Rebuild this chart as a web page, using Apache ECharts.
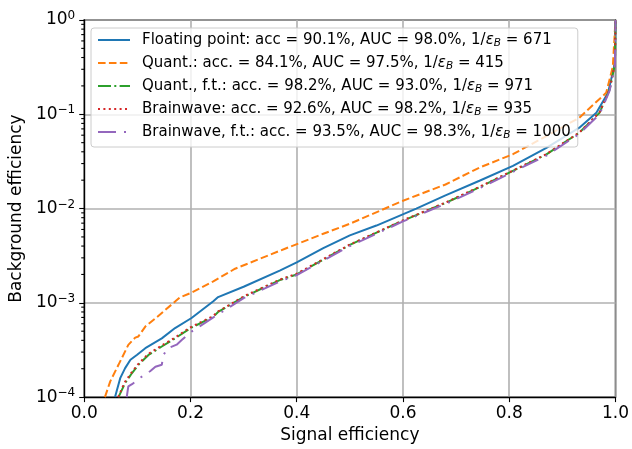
<!DOCTYPE html>
<html><head><meta charset="utf-8">
<script src="https://cdn.jsdelivr.net/npm/echarts@6/dist/echarts.min.js"></script>
<style>html,body{margin:0;padding:0;background:#fff}#c{width:632px;height:449px}</style>
</head><body><div id="c"></div><script>
// ---- data ----
const seriesNames = ['Floating point', 'Quant.', 'Quant., f.t.', 'Brainwave', 'Brainwave, f.t.'];
const legendText = [
  'Floating point: acc = 90.1%, AUC = 98.0%, 1/{e|ε}{s|B} = 671',
  'Quant.: acc. = 84.1%, AUC = 97.5%, 1/{e|ε}{s|B} = 415',
  'Quant., f.t.: acc. = 98.2%, AUC = 93.0%, 1/{e|ε}{s|B} = 971',
  'Brainwave: acc. = 92.6%, AUC = 98.2%, 1/{e|ε}{s|B} = 935',
  'Brainwave, f.t.: acc. = 93.5%, AUC = 98.3%, 1/{e|ε}{s|B} = 1000'
];
const floatingPoint = [[0.058,1.0e-4],[0.068,1.6e-4],[0.077,2.03e-4],[0.087,2.49e-4],[0.099,2.8e-4],[0.115,3.3e-4],[0.146,4.2e-4],[0.171,5.4e-4],[0.202,6.9e-4],[0.243,1.04e-3],[0.252,1.15e-3],[0.3,1.48e-3],[0.368,2.2e-3],[0.4,2.68e-3],[0.45,3.8e-3],[0.5,5.2e-3],[0.55,6.6e-3],[0.625,1.0e-2],[0.68,1.38e-2],[0.744,1.97e-2],[0.807,2.83e-2],[0.87,4.4e-2],[0.932,7.2e-2],[0.964,1.04e-1],[0.986,1.69e-1],[0.999,3.5e-1],[1,1]];
const quant = [[0.039,1.0e-4],[0.049,1.47e-4],[0.0645,2.2e-4],[0.083,3.58e-4],[0.096,4.28e-4],[0.102,4.4e-4],[0.115,5.6e-4],[0.134,6.84e-4],[0.171,1.03e-3],[0.18,1.14e-3],[0.202,1.28e-3],[0.243,1.69e-3],[0.284,2.3e-3],[0.378,3.75e-3],[0.45,5.4e-3],[0.5,6.9e-3],[0.6,1.21e-2],[0.68,1.8e-2],[0.744,2.72e-2],[0.807,3.77e-2],[0.87,5.88e-2],[0.932,9.2e-2],[0.9825,1.69e-1],[0.995,3.2e-1],[1,1]];
const quantFt = [[0.0645,1.0e-4],[0.077,1.41e-4],[0.09,1.8e-4],[0.102,2.2e-4],[0.121,2.8e-4],[0.146,3.44e-4],[0.171,4.2e-4],[0.202,5.46e-4],[0.243,7.1e-4],[0.252,8.0e-4],[0.3,1.15e-3],[0.368,1.74e-3],[0.4,2.0e-3],[0.5,4.12e-3],[0.6,7.45e-3],[0.682,1.16e-2],[0.744,1.68e-2],[0.807,2.51e-2],[0.87,3.75e-2],[0.932,6.38e-2],[0.97,1.04e-1],[0.989,1.83e-1],[0.999,3.4e-1],[1,1]];
const brainwave = [[0.064,1.0e-4],[0.076,1.43e-4],[0.089,1.82e-4],[0.101,2.22e-4],[0.12,2.85e-4],[0.145,3.5e-4],[0.17,4.25e-4],[0.2,5.5e-4],[0.242,7.2e-4],[0.252,8.1e-4],[0.3,1.17e-3],[0.368,1.76e-3],[0.4,2.04e-3],[0.5,4.15e-3],[0.6,7.5e-3],[0.682,1.17e-2],[0.744,1.7e-2],[0.807,2.53e-2],[0.87,3.78e-2],[0.932,6.4e-2],[0.97,1.05e-1],[0.989,1.85e-1],[0.999,3.4e-1],[1,1]];
const brainwaveFt = [[0.08,1.0e-4],[0.083,1.3e-4],[0.09,1.37e-4],[0.105,1.6e-4],[0.124,1.88e-4],[0.134,2.1e-4],[0.146,2.2e-4],[0.149,2.8e-4],[0.158,3.3e-4],[0.174,3.6e-4],[0.184,4.05e-4],[0.202,4.95e-4],[0.243,7.0e-4],[0.3,1.12e-3],[0.368,1.68e-3],[0.4,1.97e-3],[0.5,4.0e-3],[0.6,7.3e-3],[0.682,1.13e-2],[0.744,1.64e-2],[0.807,2.45e-2],[0.87,3.65e-2],[0.932,6.2e-2],[0.97,1.0e-1],[0.989,1.78e-1],[0.999,3.3e-1],[1,1]];
const xTickLabels = ['0.0','0.2','0.4','0.6','0.8','1.0'];
const minorMultipliers = [2,3,4,5,6,7,8,9];
const minorDecades = [1e-4,1e-3,1e-2,1e-1];

// ---- styling ----
const FONT = 'DejaVu Sans';
const colors = ['#1f77b4','#ff7f0e','#2ca02c','#d62728','#9467bd'];
const dashes = ['solid',[7.6,3.3],[13,3.3,2,3.3],[2,3.4],[18,8,2,8]];
const allData = [floatingPoint, quant, quantFt, brainwave, brainwaveFt];

const minorTicks = [];
minorDecades.forEach(d => minorMultipliers.forEach(m => minorTicks.push([0, m * d])));

const series = seriesNames.map((n, i) => ({
  name: n, type: 'line', data: allData[i], symbol: 'none', showSymbol: false,
  lineStyle: {color: colors[i], width: 2, type: dashes[i]},
  itemStyle: {color: colors[i]}, z: 2 + i, clip: true
}));
series.push({
  type: 'custom', data: minorTicks, silent: true, clip: false, z: 10,
  renderItem: (params, api) => {
    const p = api.coord([0, api.value(1)]);
    return {type: 'line', shape: {x1: p[0] - 3, y1: p[1], x2: p[0], y2: p[1]},
      style: {stroke: '#000', lineWidth: 1.1}};
  }
});

const chart = echarts.init(document.getElementById('c'), null, {renderer: 'canvas'});
chart.setOption({
  animation: false,
  backgroundColor: '#fff',
  textStyle: {fontFamily: FONT},
  grid: {left: 84, right: 16, top: 20, bottom: 50, show: true, borderColor: '#000', borderWidth: 1.4, backgroundColor: 'transparent'},
  legend: {
    data: seriesNames, orient: 'vertical', left: 91, top: 28,
    itemWidth: 32, itemHeight: 14, itemGap: 5,
    padding: [3, 7, 6, 6],
    backgroundColor: 'rgba(255,255,255,0.8)', borderColor: '#cccccc', borderWidth: 1, borderRadius: 3,
    itemStyle: {opacity: 0, borderWidth: 0},
    lineStyle: {width: 2, opacity: 1},
    formatter: name => legendText[seriesNames.indexOf(name)],
    textStyle: {fontFamily: FONT, fontSize: 15, color: '#000', lineHeight: 18, padding: [0,0,0,7],
      rich: {
        e: {fontFamily: FONT, fontSize: 15, fontStyle: 'italic', lineHeight: 18, color: '#000'},
        s: {fontFamily: FONT, fontSize: 10.5, fontStyle: 'italic', lineHeight: 9, verticalAlign: 'bottom', color: '#000'}
      }},
    selectedMode: false
  },
  xAxis: {
    type: 'value', min: 0, max: 1, interval: 0.2,
    name: 'Signal efficiency', nameLocation: 'middle', nameGap: 27,
    nameTextStyle: {fontFamily: FONT, fontSize: 17, color: '#000'},
    axisLine: {show: true, onZero: false, lineStyle: {color: '#000', width: 1.4}},
    axisTick: {show: true, inside: false, length: 5, lineStyle: {color: '#000', width: 1.1}},
    axisLabel: {fontFamily: FONT, fontSize: 17, color: '#000', margin: 8,
      formatter: v => xTickLabels[Math.round(v / 0.2)]},
    splitLine: {show: true, lineStyle: {color: '#b0b0b0', width: 1.6}}
  },
  yAxis: {
    type: 'log', logBase: 10, min: 1e-4, max: 1,
    name: 'Background efficiency', nameLocation: 'middle', nameGap: 54,
    nameTextStyle: {fontFamily: FONT, fontSize: 17, color: '#000'},
    axisLine: {show: true, lineStyle: {color: '#000', width: 1.4}},
    axisTick: {show: true, inside: false, length: 5, lineStyle: {color: '#000', width: 1.1}},
    axisLabel: {fontFamily: FONT, fontSize: 17, color: '#000', margin: 9, lineHeight: 20,
      formatter: v => {
        const e = Math.round(Math.log10(v));
        return '10{sup|' + (e < 0 ? '\u2212' + (-e) : e) + '}';
      },
      rich: {sup: {fontFamily: FONT, fontSize: 12, lineHeight: 8, verticalAlign: 'top', color: '#000'}}},
    splitLine: {show: true, lineStyle: {color: '#b0b0b0', width: 1.6}}
  },
  series: series
});
</script></body></html>
